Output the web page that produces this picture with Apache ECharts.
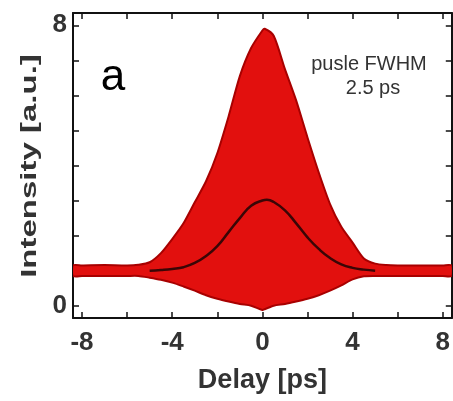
<!DOCTYPE html>
<html>
<head>
<meta charset="utf-8">
<script src="https://cdn.jsdelivr.net/npm/echarts@6/dist/echarts.min.js"></script>
<style>html,body{margin:0;padding:0;background:#fff;}#c{width:453px;height:401px;}</style>
</head>
<body>
<div id="c"></div>
<script>
// ---- data ----
const delayPs = [-8.4,-8,-7,-6,-5.5,-5,-4.5,-4,-3.5,-3,-2.5,-2,-1.5,-1,-0.5,0,0.1,0.5,1,1.5,2,2.5,3,3.5,4,4.5,5,5.5,6,7,8,8.4];
const upperEnvelope = [1.15,1.15,1.16,1.15,1.17,1.24,1.5,1.9,2.35,2.95,3.55,4.35,5.4,6.55,7.35,7.85,7.9,7.7,6.75,5.85,4.8,3.8,2.9,2.25,1.8,1.35,1.2,1.16,1.15,1.15,1.15,1.15];
const lowerEnvelope = [0.85,0.85,0.85,0.85,0.85,0.8,0.74,0.66,0.55,0.43,0.3,0.2,0.12,0.05,0,-0.12,-0.1,0,0.05,0.12,0.2,0.3,0.43,0.58,0.75,0.84,0.85,0.85,0.85,0.85,0.85,0.85];
const intensityDelay = [-5,-4.5,-4,-3.5,-3,-2.5,-2,-1.5,-1,-0.5,0,0.2,0.5,1,1.5,2,2.5,3,3.5,4,4.5,5];
const intensityValues = [1.0,1.02,1.05,1.1,1.22,1.42,1.7,2.1,2.5,2.85,3.0,3.02,2.96,2.72,2.35,1.95,1.62,1.36,1.18,1.08,1.03,1.0];
const xTicks = [-8,-6,-4,-2,0,2,4,6,8];
const xLabels = [-8,-4,0,4,8];
const yTicks = [0,1,2,3,4,5,6,7,8];
const yLabels = [0,8];

const upperPts = delayPs.map((d,i)=>[d, upperEnvelope[i]]);
const lowerPts = delayPs.map((d,i)=>[d, lowerEnvelope[i]]);
const blackPts = intensityDelay.map((d,i)=>[d, intensityValues[i]]);

const chart = echarts.init(document.getElementById('c'), null, {renderer:'canvas'});
const labelFont = {fontFamily:'Liberation Sans', fontSize:26, fontWeight:'bold', color:'#333'};
const axisBase = {
  type:'value', min:-8.4, max:8.4, splitLine:{show:false},
  axisLine:{show:true, onZero:false, lineStyle:{color:'#111', width:2}},
  axisTick:{show:true, inside:true, length:6, customValues:xTicks, lineStyle:{color:'#111', width:1.5}}
};
const yBase = {
  type:'value', min:-0.35, max:8.35, splitLine:{show:false},
  axisLine:{show:true, onZero:false, lineStyle:{color:'#111', width:2}},
  axisTick:{show:true, inside:true, length:6, customValues:yTicks, lineStyle:{color:'#111', width:1.5}}
};
chart.setOption({
  animation:false,
  grid:{left:73, right:1, top:13, bottom:83, containLabel:false},
  xAxis:[
    Object.assign({}, axisBase, {position:'bottom',
      axisLabel:Object.assign({show:true, margin:12, customValues:xLabels}, labelFont),
      name:'Delay [ps]', nameLocation:'middle', nameGap:49,
      nameTextStyle:{fontFamily:'Liberation Sans', fontSize:27, fontWeight:'bold', color:'#333'}}),
    Object.assign({}, axisBase, {position:'top', axisLabel:{show:false}})
  ],
  yAxis:[
    Object.assign({}, yBase, {position:'left',
      axisLabel:Object.assign({show:true, margin:6, customValues:yLabels}, labelFont)}),
    Object.assign({}, yBase, {position:'right', axisLabel:{show:false}})
  ],
  graphic:[
    {type:'text', x:30, y:166, rotation:Math.PI/2, scaleX:1.5, scaleY:1,
     style:{text:'Intensity [a.u.]', fontFamily:'Liberation Sans', fontSize:22, fontWeight:'bold', fill:'#333', align:'center', verticalAlign:'middle'}},
    {type:'text', x:113, y:78, style:{text:'a', fontFamily:'Liberation Sans', fontSize:44, fill:'#000', align:'center', verticalAlign:'middle'}},
    {type:'text', x:369, y:64, style:{text:'pusle FWHM', fontFamily:'Liberation Sans', fontSize:20, fill:'#333', align:'center', verticalAlign:'middle'}},
    {type:'text', x:373, y:88, style:{text:'2.5 ps', fontFamily:'Liberation Sans', fontSize:20, fill:'#333', align:'center', verticalAlign:'middle'}}
  ],
  series:[
    {type:'custom', coordinateSystem:'cartesian2d', data:[[0,0]], clip:true, z:2,
     renderItem:function(params, api){
       const pts = upperPts.map(p=>api.coord(p)).concat(lowerPts.slice().reverse().map(p=>api.coord(p)));
       return {type:'polygon', shape:{points:pts, smooth:0.25},
               style:{fill:'#e2100e', stroke:'#a80000', lineWidth:2}};
     }},
    {type:'line', data:blackPts, smooth:true, symbol:'none', z:4,
     lineStyle:{color:'#3a0606', width:2.5}}
  ]
});
</script>
</body>
</html>
